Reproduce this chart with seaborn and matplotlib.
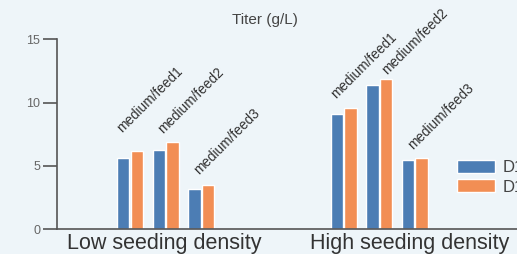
import numpy as np
import pandas as pd
import matplotlib
matplotlib.use("Agg")
import matplotlib.pyplot as plt
import seaborn as sns

# values
groups = ['Low seeding density', 'High seeding density']
feeds = ['medium/feed1', 'medium/feed2', 'medium/feed3']
days = ['D14', 'D16']
low_d14 = [5.63, 6.26, 3.18]
low_d16 = [6.20, 6.92, 3.50]
high_d14 = [9.10, 11.39, 5.47]
high_d16 = [9.57, 11.86, 5.65]

# hand placement of the feed labels (pixels from pair's left edge / top)
label_dx = [6, 11, 11, 6, 21, 12]
label_dy = [18, 8, 10, 9, 4, 8]

bg = '#eef5f9'
blue = '#4c7db4'
orange = '#f28e54'

sns.set_style('white')
plt.rcParams['font.family'] = ['Liberation Sans', 'DejaVu Sans']

rows = []
vals = {('Low seeding density', 'D14'): low_d14, ('Low seeding density', 'D16'): low_d16,
        ('High seeding density', 'D14'): high_d14, ('High seeding density', 'D16'): high_d16}
for g in groups:
    for d in days:
        for f, v in zip(feeds, vals[(g, d)]):
            rows.append({'slot': g + '|' + f, 'day': d, 'titer': v})
df = pd.DataFrame(rows)

# slot order: three feeds per group, blank slots in between
order = [groups[0] + '|' + f for f in feeds] + [' ', '  ', '   '] + [groups[1] + '|' + f for f in feeds]

fig = plt.figure(figsize=(5.17, 2.54), dpi=100)
fig.patch.set_facecolor(bg)
ax = fig.add_axes([57 / 517, 24.7 / 254, 563 / 517, 190 / 254])
ax.set_facecolor(bg)

sns.barplot(data=df, x='slot', y='titer', hue='day', order=order,
            palette=[blue, orange], width=0.76, gap=0.08, ax=ax,
            errorbar=None, saturation=1)

# feed labels above each pair
tops = df.groupby('slot')['titer'].max()
k = 0
for i, s in enumerate(order):
    if s.strip() == '':
        continue
    ax.annotate(s.split('|')[1], xy=(i - 0.38, tops[s]),
                xytext=(label_dx[k], label_dy[k]),
                textcoords='offset pixels', rotation=45, rotation_mode='anchor',
                ha='left', va='baseline', fontsize=9.8, color='#333333')
    k += 1

ax.set_xlim(-2.05, 13.76)
ax.set_ylim(0, 15)
ax.set_yticks([0, 5, 10, 15])
ax.set_xticks([0.955, 7.84])
ax.set_xticklabels(groups, fontsize=15.5, color='#333333')
ax.tick_params(axis='x', length=0, pad=3)
ax.tick_params(axis='y', length=10, width=1.2, color='#555555', labelsize=9,
               labelcolor='#666666', pad=2, left=True)
ax.set_xlabel('')
ax.set_ylabel('')
sns.despine(ax=ax)
for sp in ['left', 'bottom']:
    ax.spines[sp].set_color('#555555')
    ax.spines[sp].set_linewidth(1.2)

handles, labels = ax.get_legend_handles_labels()
ax.legend_.remove()
fig.legend(handles, labels, loc='upper left', bbox_to_anchor=(457 / 517, 1 - 160 / 254),
           frameon=False, fontsize=12, handlelength=2.28, handleheight=0.85,
           handletextpad=0.45, labelspacing=0.22, borderpad=0, borderaxespad=0,
           labelcolor='#444444')

fig.text(265 / 517, 1 - 20 / 254, 'Titer (g/L)', ha='center', va='center',
         fontsize=11, color='#444444')

fig.savefig('out.png', dpi=100, facecolor=bg)
